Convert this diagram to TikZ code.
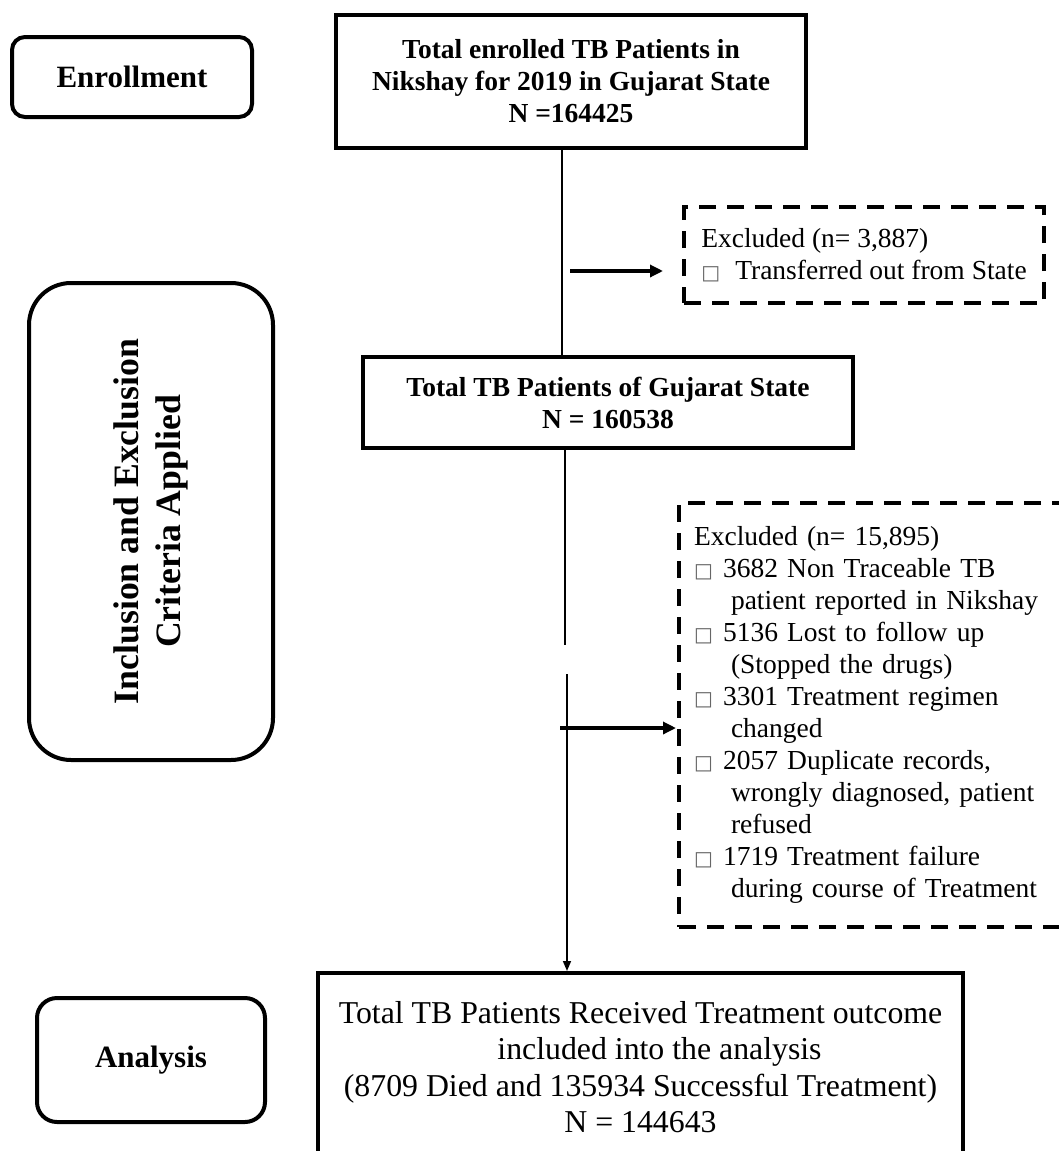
\documentclass[tikz,border=0pt]{standalone}
\usepackage{fontspec}
\setmainfont{Liberation Serif}
\newfontfamily\boxglyphfont{DejaVu Sans}
\usetikzlibrary{arrows.meta}

% hollow square used as the list marker in the exclusion boxes
\newcommand{\markglyph}{{\boxglyphfont\fontsize{20}{20}\selectfont\color{black!60}□}}
\newcommand{\itemmark}[1]{\makebox[#1][l]{\markglyph}}

\tikzset{
  stagebox/.style={draw, line width=4pt, rounded corners=#1, inner sep=0pt,
    font=\bfseries\fontsize{31}{36}\selectfont, align=center},
  flowbox/.style={draw, line width=4pt, inner sep=0pt, align=center},
  exclbox/.style={draw, line width=4pt, dash pattern=on 17pt off 11pt,
    inner ysep=0pt, align=left, font=\fontsize{27.5}{32}\selectfont},
  conn/.style={line width=1.6pt},
  sidearrow/.style={line width=3.2pt, -{Triangle[length=13pt,width=12pt]}},
  downarrow/.style={line width=1.6pt, -{Triangle[length=10pt,width=8pt]}}
}

\begin{document}
\begin{tikzpicture}[x=1pt,y=-1pt]
  \path[use as bounding box, fill=white] (0,0) rectangle (1059,1151);

  % stage labels on the left
  \node[stagebox=13pt, minimum width=240pt, minimum height=80pt] (enroll) at (132,77) {Enrollment};
  \node[stagebox=42pt, rotate=90, minimum width=477pt, minimum height=244pt,
        font=\bfseries\fontsize{35.7}{42}\selectfont] (criteria) at (151,521.5)
        {Inclusion and Exclusion\\Criteria Applied};
  \node[stagebox=20pt, minimum width=228pt, minimum height=124pt] (analysis) at (151,1060) {Analysis};

  % main flow boxes
  \node[flowbox, minimum width=470pt, minimum height=133pt,
        font=\bfseries\fontsize{27.5}{32}\selectfont] (enrolled) at (571,81.5)
        {Total enrolled TB Patients in\\Nikshay for 2019 in Gujarat State\\N =164425};
  \node[flowbox, minimum width=490pt, minimum height=91pt,
        font=\bfseries\fontsize{27.5}{32}\selectfont] (state) at (608,402.5)
        {Total TB Patients of Gujarat State\\N = 160538};
  \node[flowbox, minimum width=645pt, minimum height=188pt,
        font=\fontsize{31.8}{36.5}\selectfont] (final) at (640.5,1067)
        {Total TB Patients Received Treatment outcome\\
         \hspace*{38pt}included into the analysis\\
         (8709 Died and 135934 Successful Treatment)\\
         N = 144643};

  % exclusion boxes
  \node[exclbox, anchor=west, inner xsep=0pt, minimum width=360pt, minimum height=96pt] (excl1) at (682,255)
        {Excluded (n= 3,887)\\\itemmark{34pt}Transferred out from State};
  \node[exclbox, anchor=west, inner xsep=15pt, text width=373pt, minimum height=424pt] (excl2) at (677,715)
        {Excluded (n= 15,895)\\
         \itemmark{29pt}3682 Non Traceable TB\\
         \hspace*{37pt}patient reported in Nikshay\\
         \itemmark{29pt}5136 Lost to follow up\\
         \hspace*{37pt}(Stopped the drugs)\\
         \itemmark{29pt}3301 Treatment regimen\\
         \hspace*{37pt}changed\\
         \itemmark{29pt}2057 Duplicate records,\\
         \hspace*{37pt}wrongly diagnosed, patient\\
         \hspace*{37pt}refused\\
         \itemmark{29pt}1719 Treatment failure\\
         \hspace*{37pt}during course of Treatment};

  % connector geometry
  \coordinate (upperx) at (562,0);
  \coordinate (lowerx) at (565,0);
  \coordinate (gaptop) at (565,645);
  \coordinate (gapbot) at (567,674);
  \coordinate (branch1) at (570,271);
  \coordinate (branch2) at (560,728);

  % vertical flow
  \draw[conn] (enrolled.south -| upperx) -- (state.north -| upperx);
  \draw[conn] (state.south -| lowerx) -- (gaptop);
  \draw[downarrow] (gapbot) -- (gapbot |- final.north);

  % side arrows to the exclusion boxes
  \draw[sidearrow, shorten >=19pt] (branch1) -- (branch1 -| excl1.west);
  \draw[sidearrow, shorten >=1pt] (branch2) -- (branch2 -| excl2.west);
\end{tikzpicture}
\end{document}
